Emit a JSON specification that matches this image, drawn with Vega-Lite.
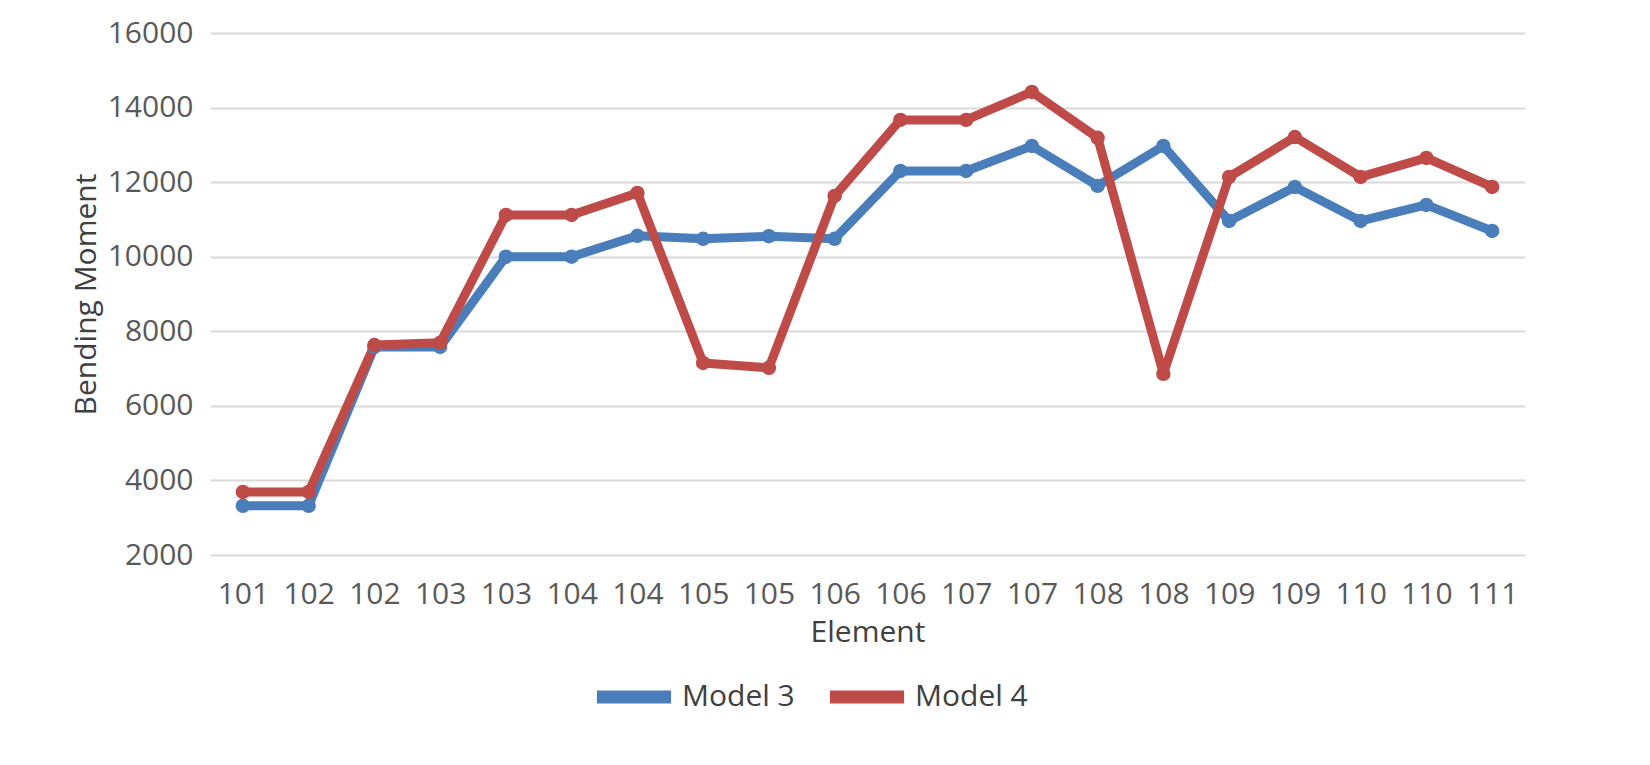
{
  "$schema": "https://vega.github.io/schema/vega-lite/v6.json",
  "width": 1315,
  "height": 522,
  "autosize": "none",
  "padding": {"left": 210, "top": 33, "right": 125, "bottom": 210},
  "background": "white",
  "data": {
    "values": [
      {"idx": 0, "model": "Model 3", "value": 3320},
      {"idx": 1, "model": "Model 3", "value": 3320},
      {"idx": 2, "model": "Model 3", "value": 7580},
      {"idx": 3, "model": "Model 3", "value": 7580},
      {"idx": 4, "model": "Model 3", "value": 10000},
      {"idx": 5, "model": "Model 3", "value": 10000},
      {"idx": 6, "model": "Model 3", "value": 10560},
      {"idx": 7, "model": "Model 3", "value": 10480},
      {"idx": 8, "model": "Model 3", "value": 10550},
      {"idx": 9, "model": "Model 3", "value": 10480},
      {"idx": 10, "model": "Model 3", "value": 12300},
      {"idx": 11, "model": "Model 3", "value": 12300},
      {"idx": 12, "model": "Model 3", "value": 12970},
      {"idx": 13, "model": "Model 3", "value": 11900},
      {"idx": 14, "model": "Model 3", "value": 12970},
      {"idx": 15, "model": "Model 3", "value": 10960},
      {"idx": 16, "model": "Model 3", "value": 11870},
      {"idx": 17, "model": "Model 3", "value": 10960},
      {"idx": 18, "model": "Model 3", "value": 11390},
      {"idx": 19, "model": "Model 3", "value": 10690},
      {"idx": 0, "model": "Model 4", "value": 3690},
      {"idx": 1, "model": "Model 4", "value": 3690},
      {"idx": 2, "model": "Model 4", "value": 7630},
      {"idx": 3, "model": "Model 4", "value": 7690},
      {"idx": 4, "model": "Model 4", "value": 11120},
      {"idx": 5, "model": "Model 4", "value": 11120},
      {"idx": 6, "model": "Model 4", "value": 11710},
      {"idx": 7, "model": "Model 4", "value": 7150},
      {"idx": 8, "model": "Model 4", "value": 7020},
      {"idx": 9, "model": "Model 4", "value": 11630},
      {"idx": 10, "model": "Model 4", "value": 13670},
      {"idx": 11, "model": "Model 4", "value": 13670},
      {"idx": 12, "model": "Model 4", "value": 14420},
      {"idx": 13, "model": "Model 4", "value": 13190},
      {"idx": 14, "model": "Model 4", "value": 6860},
      {"idx": 15, "model": "Model 4", "value": 12140},
      {"idx": 16, "model": "Model 4", "value": 13210},
      {"idx": 17, "model": "Model 4", "value": 12140},
      {"idx": 18, "model": "Model 4", "value": 12650},
      {"idx": 19, "model": "Model 4", "value": 11870}
    ]
  },
  "mark": {
    "type": "line",
    "strokeWidth": 9,
    "strokeCap": "round",
    "strokeJoin": "round",
    "point": {"filled": true, "size": 210}
  },
  "encoding": {
    "x": {
      "field": "idx",
      "type": "ordinal",
      "scale": {"type": "point", "padding": 0.5},
      "title": "Element",
      "axis": {
        "labelAngle": 0,
        "labelExpr": "['101','102','102','103','103','104','104','105','105','106','106','107','107','108','108','109','109','110','110','111'][datum.value]",
        "labelPadding": 24,
        "titlePadding": 8,
        "grid": false,
        "ticks": false,
        "domain": false
      }
    },
    "y": {
      "field": "value",
      "type": "quantitative",
      "scale": {"domain": [2000, 16000]},
      "title": "Bending Moment",
      "axis": {
        "values": [2000, 4000, 6000, 8000, 10000, 12000, 14000, 16000],
        "format": "d",
        "labelPadding": 17,
        "titlePadding": 6,
        "ticks": false,
        "domain": false,
        "gridColor": "#d9d9d9",
        "gridWidth": 2
      }
    },
    "color": {
      "field": "model",
      "type": "nominal",
      "title": null,
      "scale": {"domain": ["Model 3", "Model 4"], "range": ["#4a7ebb", "#be4b48"]},
      "legend": {
        "orient": "none",
        "legendX": 380,
        "legendY": 620,
        "direction": "horizontal",
        "symbolType": "stroke",
        "symbolStrokeWidth": 13,
        "symbolSize": 5500,
        "labelFontSize": 30,
        "labelColor": "#404040",
        "labelOffset": 4,
        "columnPadding": 8
      }
    }
  },
  "config": {
    "font": "Open Sans",
    "view": {"stroke": null},
    "axis": {
      "labelFont": "Open Sans",
      "labelFontSize": 30,
      "labelColor": "#595959",
      "titleFont": "Open Sans",
      "titleFontSize": 30,
      "titleFontWeight": "normal",
      "titleColor": "#404040"
    },
    "legend": {"labelFont": "Open Sans"}
  }
}
